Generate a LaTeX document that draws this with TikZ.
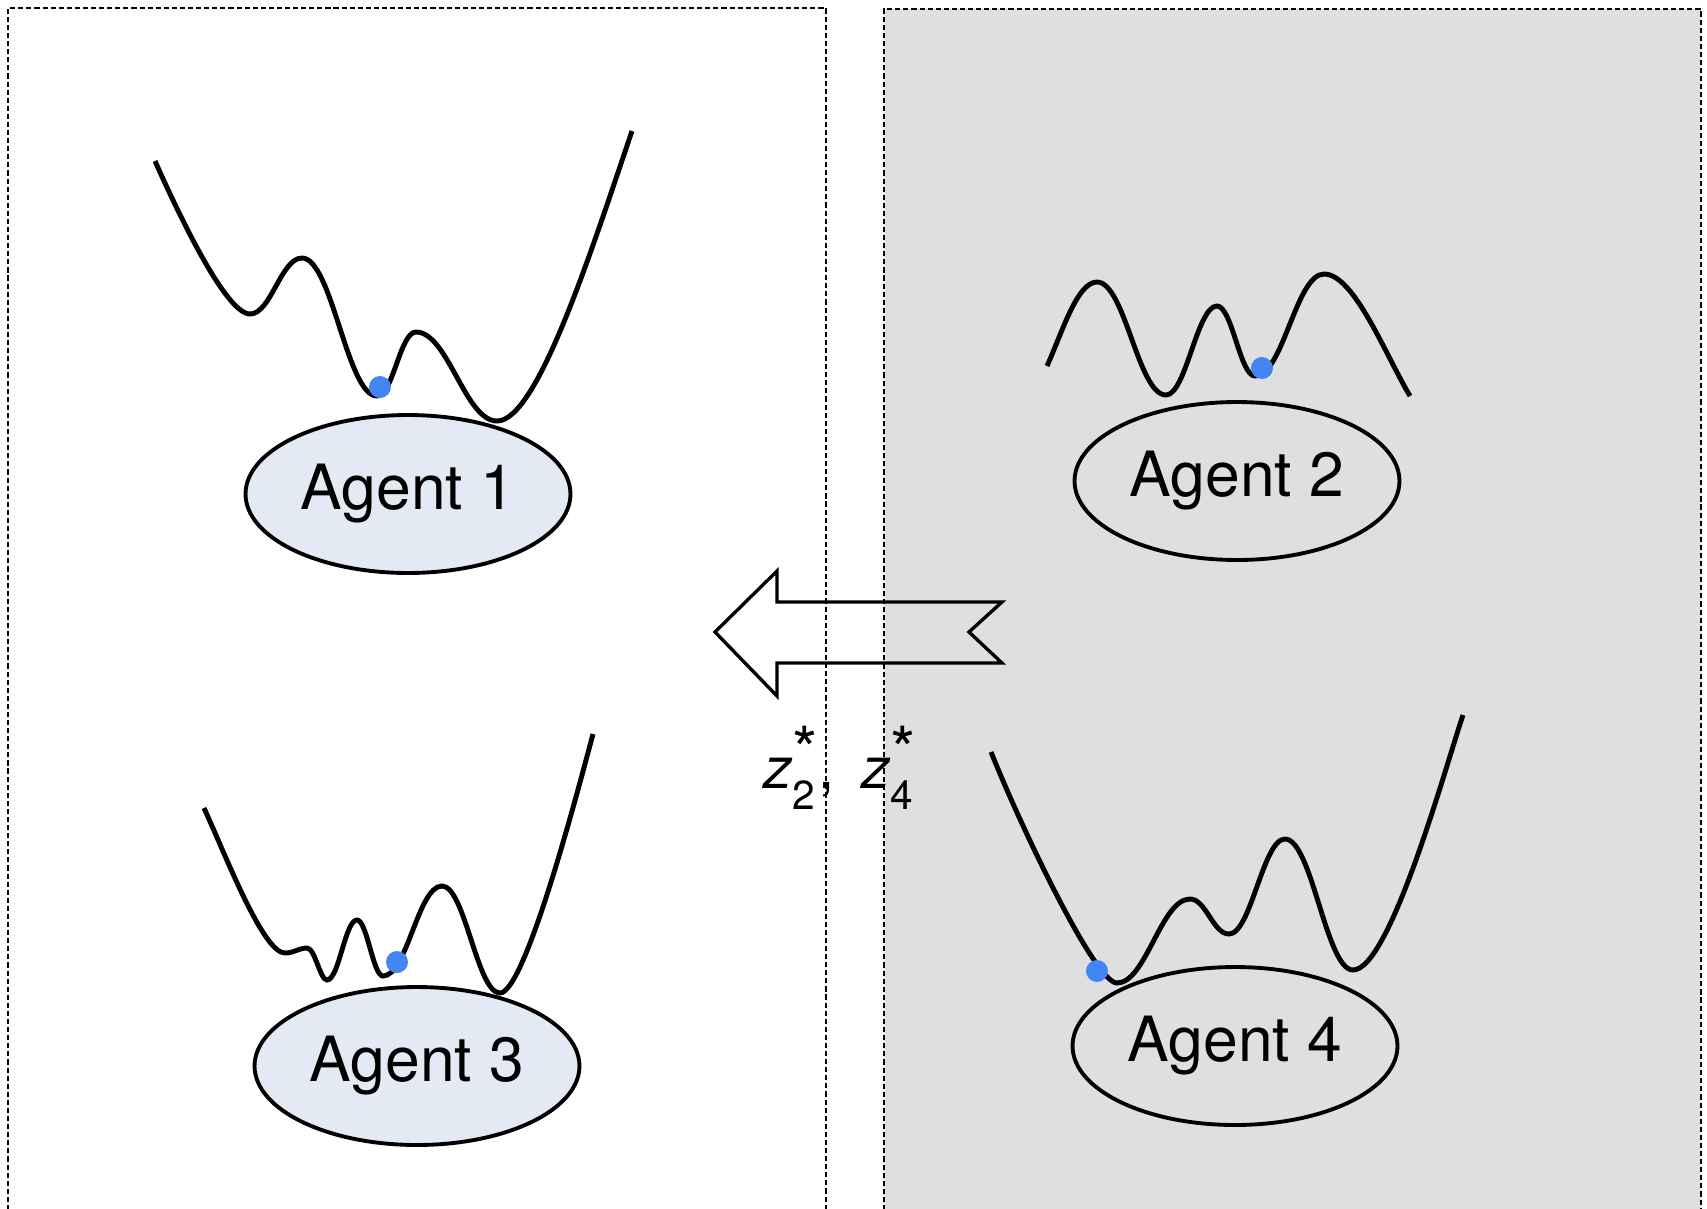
\documentclass[tikz,border=0pt]{standalone}
\usepackage{amsmath}
\usepackage{graphicx}
\usepackage{fontspec}
\setmainfont{TeX Gyre Heros}
\usetikzlibrary{shapes.geometric}

\definecolor{panelgray}{RGB}{223,223,223}
\definecolor{agentblue}{RGB}{227,234,244}
\definecolor{ballblue}{RGB}{67,133,245}

\tikzset{
  panel/.style={draw=black, line width=0.6pt, dash pattern=on 2.9pt off 1.7pt},
  agent/.style={ellipse, draw=black, line width=2.2pt, minimum width=6.5cm,
    minimum height=3.16cm, inner sep=0pt, font=\fontsize{35.5}{40}\selectfont},
  landscape/.style={line width=2.8pt},
  ball/.style={circle, fill=ballblue, minimum size=0.44cm, inner sep=0pt},
  bigarrow/.style={draw=black, line width=1.9pt, line join=miter},
}
% enlarged asterisk for the superscripts
\newcommand{\bigast}{\text{\raisebox{-0.4ex}{\scalebox{1.6}{*}}}}

\begin{document}
\begin{tikzpicture}[x=0.02cm, y=-0.02cm]
\useasboundingbox (0,0) rectangle (1707,1208);

% shaded right panel
\fill[panelgray] (884,9) rectangle (1701,1210);

% transfer arrow (outline only)
\draw[bigarrow] (715,632) -- (777,571) -- (777,602) -- (1002,602) -- (969,632)
  -- (1002,663) -- (777,663) -- (777,696) -- cycle;

% panel outlines, open at the bottom
\draw[panel] (8,1210) -- (8,8) -- (826,8) -- (826,1210);
\draw[panel] (884,1210) -- (884,9) -- (1701,9) -- (1701,1210);

% agents
\node[agent, fill=agentblue] (a1) at (408,494) {Agent 1};
\node[agent] (a2) at (1237,481) {Agent 2};
\node[agent, fill=agentblue] (a3) at (417,1066) {Agent 3};
\node[agent] (a4) at (1235,1046) {Agent 4};

% loss landscapes: cubic pieces joined at the extrema
\draw[landscape] (155,161) .. controls (175,206) and (225,314) .. (250,314)
  .. controls (271,314) and (281,258) .. (302,258)
  .. controls (332,258) and (347,396) .. (377,396)
  .. controls (393,396) and (400,332) .. (416,332)
  .. controls (448,332) and (465,421) .. (497,421)
  .. controls (537,421) and (590,255) .. (632,131);
\draw[landscape] (1047,366) .. controls (1062,333) and (1077,282) .. (1097,282)
  .. controls (1125,282) and (1138,395) .. (1166,395)
  .. controls (1186,395) and (1197,306) .. (1217,306)
  .. controls (1232,306) and (1240,376) .. (1255,376)
  .. controls (1283,376) and (1296,274) .. (1324,274)
  .. controls (1354,274) and (1385,354) .. (1410,396);
\draw[landscape] (204,808) .. controls (226,856) and (263,953) .. (285,953)
  .. controls (294,953) and (299,948) .. (307,948)
  .. controls (315,948) and (320,980) .. (327,980)
  .. controls (339,980) and (345,920) .. (357,920)
  .. controls (367,920) and (373,976) .. (383,976)
  .. controls (407,976) and (418,886) .. (442,886)
  .. controls (465,886) and (477,993) .. (500,993)
  .. controls (525,993) and (578,790) .. (593,734);
\draw[landscape] (991,752) .. controls (1021,827) and (1095,983) .. (1117,983)
  .. controls (1146,983) and (1161,899) .. (1190,899)
  .. controls (1206,899) and (1213,934) .. (1229,934)
  .. controls (1251,934) and (1263,839) .. (1285,839)
  .. controls (1312,839) and (1326,970) .. (1353,970)
  .. controls (1390,970) and (1446,765) .. (1463,715);

% current positions
\node[ball] (b1) at (380,387) {};
\node[ball] (b2) at (1262,368) {};
\node[ball] (b3) at (397,962) {};
\node[ball] (b4) at (1097,971) {};

% transmitted solutions
\node[font=\fontsize{33}{38}\selectfont] (zl) at (840,768)
  {$\text{\itshape z}_{\text{2}}^{\bigast}$,\hspace{0.45em}$\text{\itshape z}_{\text{4}}^{\bigast}$};
\end{tikzpicture}
\end{document}
